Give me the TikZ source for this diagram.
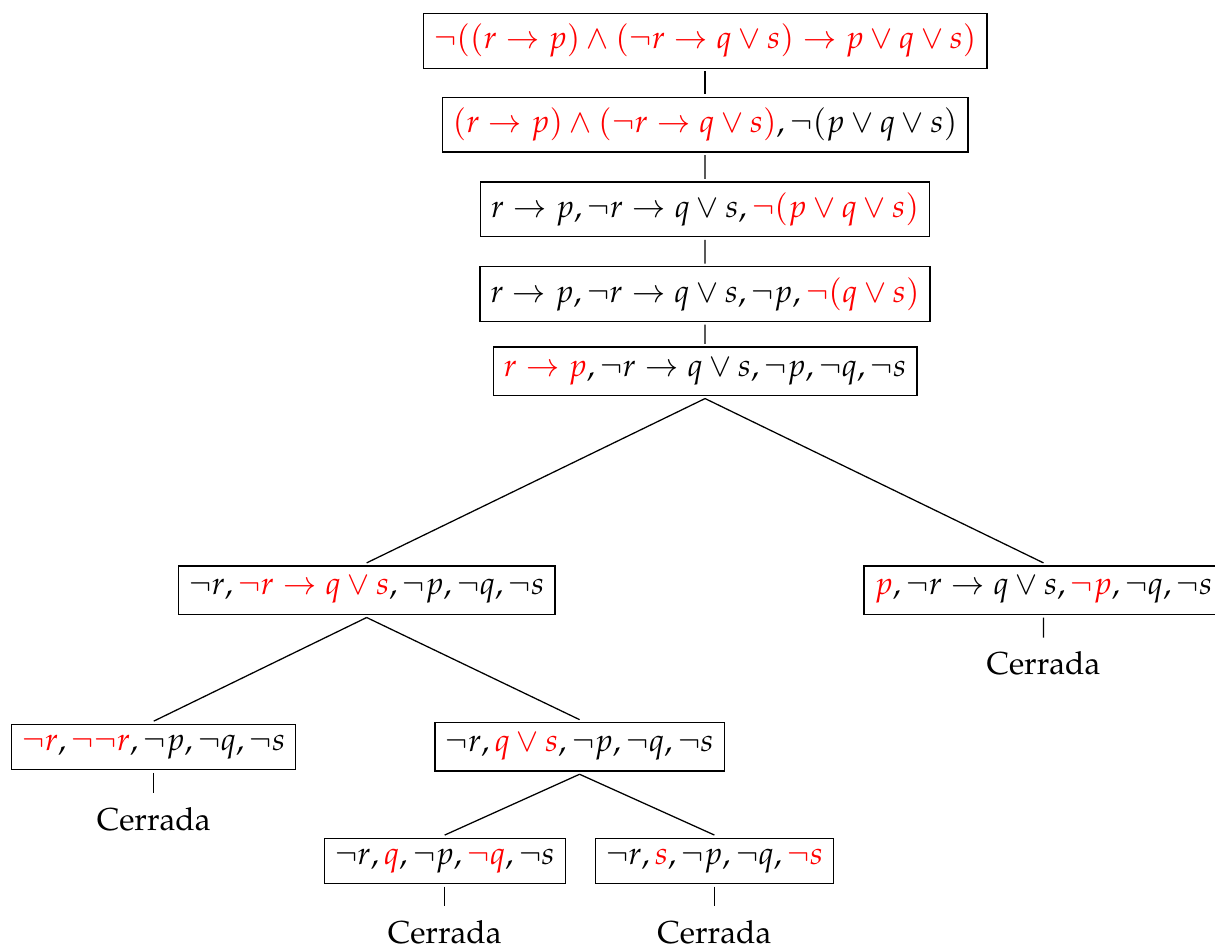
\documentclass[tikz,border=0pt]{standalone}
\usepackage[T1]{fontenc}
\usepackage{amsmath}
\usepackage{amssymb}
\usepackage{mathpazo}
\usepackage{tikz}

\newcommand{\rj}[1]{\textcolor{red}{#1}}

\begin{document}
\begin{tikzpicture}[
	caja/.style={draw, outer sep=1pt},
	cerrada/.style={outer sep=1pt},
	edge from parent path={(\tikzparentnode.south) -- (\tikzchildnode.north)},
	level 1/.style={level distance=26.4pt},
	level 2/.style={level distance=26.7pt},
	level 3/.style={level distance=26.7pt},
	level 4/.style={level distance=24.3pt},
	level 5/.style={level distance=69pt, sibling distance=213.3pt},
	level 6/.style={level distance=49.4pt, sibling distance=134.2pt},
	level 7/.style={level distance=35.9pt, sibling distance=85pt},
	level 8/.style={level distance=22.4pt}]
	
	\useasboundingbox (-222.2pt,12.9pt) rectangle (160.7pt,-285.8pt);
	
	\node[caja] (Root) {$\rj{\neg((r\to p)\land(\neg r\to q\lor s)\to p\lor q\lor s)}$}
	child { node[caja] (n2) {$\rj{(r\to p)\land(\neg r\to q\lor s)},\neg(p\lor q\lor s)$}
		child { node[caja] (n3) {$r\to p,\neg r\to q\lor s,\rj{\neg(p\lor q\lor s)}$}
			child { node[caja] (n4) {$r\to p,\neg r\to q\lor s,\neg p,\rj{\neg(q\lor s)}$}
				child { node[caja] (n5) {$\rj{r\to p},\neg r\to q\lor s,\neg p,\neg q,\neg s$}
					child { node[caja] (izq) {$\neg r,\rj{\neg r\to q\lor s},\neg p,\neg q,\neg s$}
						child { node[caja] (izqizq) {$\rj{\neg r},\rj{\neg\neg r},\neg p,\neg q,\neg s$}
							child[level distance=22.7pt] { node[cerrada] (c1) {Cerrada} }
						}
						child { node[caja] (izqder) {$\neg r,\rj{q\lor s},\neg p,\neg q,\neg s$}
							child { node[caja] (ramaq) {$\neg r,\rj{q},\neg p,\rj{\neg q},\neg s$}
								child { node[cerrada] (c2) {Cerrada} }
							}
							child { node[caja] (ramas) {$\neg r,\rj{s},\neg p,\neg q,\rj{\neg s}$}
								child { node[cerrada] (c3) {Cerrada} }
							}
						}
					}
					child { node[caja] (der) {$\rj{p},\neg r\to q\lor s,\rj{\neg p},\neg q,\neg s$}
						child[level distance=23pt] { node[cerrada] (c4) {Cerrada} }
					}
				}
			}
		}
	};
	
\end{tikzpicture}
\end{document}
